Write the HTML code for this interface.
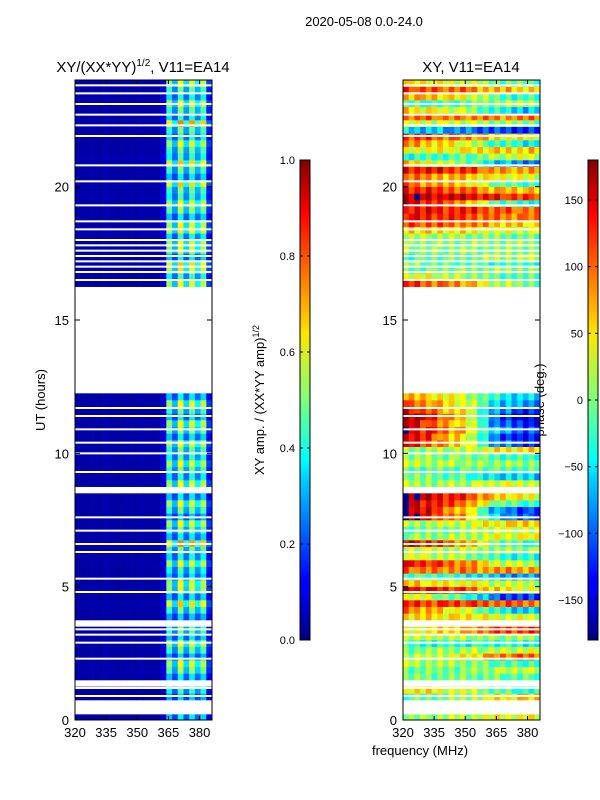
<!DOCTYPE html>
<html><head><meta charset="utf-8"><style>
body{margin:0;background:#fff;}
svg{display:block;font-family:"Liberation Sans",sans-serif;}
</style></head><body>
<svg id="fig" width="600" height="800" xmlns="http://www.w3.org/2000/svg">
<text x="364" y="26" font-size="13" text-anchor="middle">2020-05-08 0.0-24.0</text>
<text x="143" y="72" font-size="15" text-anchor="middle">XY/(XX*YY)<tspan font-size="10" dy="-6">1/2</tspan><tspan dy="6">, V11=EA14</tspan></text>
<text x="471" y="72" font-size="15" text-anchor="middle">XY, V11=EA14</text>
<text transform="translate(45,400) rotate(-90)" font-size="13" text-anchor="middle">UT (hours)</text>
<text transform="translate(264,400) rotate(-90)" font-size="13" text-anchor="middle">XY amp. / (XX*YY amp)<tspan font-size="9" dy="-5">1/2</tspan></text>
<text transform="translate(544,400) rotate(-90)" font-size="13" text-anchor="middle">phase (deg.)</text>
<text x="420" y="755" font-size="13" text-anchor="middle">frequency (MHz)</text>
<defs>
<linearGradient id="jet" x1="0" y1="1" x2="0" y2="0">
<stop offset="0" stop-color="#000080"/><stop offset="0.11" stop-color="#0000ff"/><stop offset="0.125" stop-color="#0000ff"/>
<stop offset="0.34" stop-color="#00d4ff"/><stop offset="0.375" stop-color="#00ffff"/><stop offset="0.5" stop-color="#7dff7a"/>
<stop offset="0.64" stop-color="#ffe600"/><stop offset="0.66" stop-color="#ffd000"/><stop offset="0.89" stop-color="#ff0000"/><stop offset="1" stop-color="#800000"/>
</linearGradient>
</defs>
<g id="layer"></g>
</svg>
<script>
// ---- data ----
const freqMin = 320, freqMax = 386;
const freqTicks = [320, 335, 350, 365, 380];
const hourTicks = [0, 5, 10, 15, 20];
const ampTicks = [0.0, 0.2, 0.4, 0.6, 0.8, 1.0];
const phaseTicks = [-150, -100, -50, 0, 50, 100, 150];
// amplitude profile per frequency bin (24 bins of 2.75 MHz)
const ampCol = [0.04,0.035,0.04,0.04,0.035,0.045,0.04,0.035,0.04,0.04,0.035,0.045,0.04,0.04,0.04,0.08,0.42,0.25,0.5,0.28,0.48,0.3,0.45,0.15];
// validity per 15-min row (96 rows, 0h -> 24h)
const rowValid = [1,0,0,1,1,0,1,1,1,1,1,1,1,1,0,1,1,1,1,1,1,1,1,1,1,1,1,1,1,1,1,1,1,1,0,1,1,1,1,1,1,1,1,1,1,1,1,1,1,0,0,0,0,0,0,0,0,0,0,0,0,0,0,0,0,1,1,1,1,1,1,1,1,1,1,1,1,1,1,1,1,1,1,1,1,1,1,1,1,1,1,1,1,1,1,1];
// amplitude row scale
const ampRow = [1,1,1,0.9,0.9,1,1,1.1,1,0.9,1,1,1,1,1,0.9,1,1.1,1,1.2,1,1,0.9,1,1.1,1,1.2,1,1,1,0.9,1,1,1,1,1,1.1,1,1,1.2,1,1,1,1.1,1,1,1,1,1,1,1,1,1,1,1,1,1,1,1,1,1,1,1,1,1,1,1.2,1.3,1.1,1,1.2,1,1.1,1.3,1,1,1.1,1,1.2,1,1.1,1,1,1.1,1.2,1,1,1.1,1,1.2,1.1,1,1,1.1,1,1];
// phase (deg) at low and high end of band per row
const phaseLow = [10,0,0,-20,60,0,0,-10,20,10,0,-30,20,40,0,60,90,120,40,150,60,-20,100,130,40,20,150,0,-10,10,170,165,160,170,0,10,0,-10,20,10,0,140,150,160,150,170,140,100,80,0,0,0,0,0,0,0,0,0,0,0,0,0,0,0,0,120,40,-10,0,-20,10,0,20,60,120,130,140,150,160,130,100,90,140,60,-40,40,80,120,-60,30,100,60,-30,80,120,50];
const phaseHigh = [40,0,0,60,-30,0,-10,20,-20,100,30,-40,10,120,0,30,-60,100,-120,40,20,-80,80,20,-40,10,-30,40,30,60,-100,-120,-20,40,0,30,-60,-20,10,-30,60,-120,-140,-100,-130,-150,-120,-80,-60,0,0,0,0,0,0,0,0,0,0,0,0,0,0,0,0,0,-20,10,-30,20,0,10,-10,30,60,90,100,-40,120,60,-20,30,80,-90,30,60,-40,40,-120,0,90,-60,20,-30,60,-10];
// blend weight per frequency bin (0=low phase, 1=high phase)
const phaseBlend = [0,0,0.05,0.1,0.1,0.15,0.2,0.25,0.3,0.3,0.35,0.4,0.5,0.6,0.7,0.8,0.85,0.9,0.9,0.95,1,1,1,1];
// per-bin phase texture (deg), applied with alternating sign by row
const phaseJitter = [60,-40,90,-70,30,110,-50,80,-100,40,-60,120,-30,70,-90,50,-120,60,-40,100,-70,30,-110,80];
// thin white gap lines (hours)
const gapLines = [0.25,0.9,1.2,2.3,2.9,3.2,3.4,4.8,5.3,6.3,6.6,7.1,7.6,9.3,10.0,10.4,10.9,11.4,11.7,16.5,16.8,17.0,17.2,17.4,17.6,17.8,18.0,18.4,18.7,19.3,20.2,20.8,21.9,22.3,22.7,23.1,23.5,23.8];

// ---- drawing ----
const NS = "http://www.w3.org/2000/svg";
const layer = document.getElementById('layer');
const top0 = 80, bot0 = 720;
const yH = h => bot0 - (h / 24) * (bot0 - top0);
function jet(x){x=Math.max(0,Math.min(1,x));const c=v=>Math.round(255*Math.max(0,Math.min(1,v)));
 return `rgb(${c(1.5-Math.abs(4*x-3))},${c(1.5-Math.abs(4*x-2))},${c(1.5-Math.abs(4*x-1))})`;}
function el(tag, attrs, parent){const e=document.createElementNS(NS,tag);for(const k in attrs)e.setAttribute(k,attrs[k]);(parent||layer).appendChild(e);return e;}

function panel(x0, name, valueFn){
 const w = 137;
 const xF = f => x0 + (f - freqMin) / (freqMax - freqMin) * w;
 const g = el('g', {});
 
 
 const nb = ampCol.length, bw = (freqMax - freqMin) / nb;
 for (let i = 0; i < rowValid.length; i++) {
  if (!rowValid[i]) continue;
  const y1 = yH((i + 1) * 0.25), y2 = yH(i * 0.25);
  for (let j = 0; j < nb; j++) {
   const xa = xF(freqMin + j * bw), xb = xF(freqMin + (j + 1) * bw);
   const r = el('rect', {x: xa.toFixed(2), y: y1.toFixed(2), width: (xb - xa + 0.3).toFixed(2), height: (y2 - y1 + 0.3).toFixed(2), fill: valueFn(i, j)}, g);
   
   
  }
 }
 gapLines.forEach(h => {
  const l = el('rect', {x: x0, y: yH(h) - 1, width: w, height: 2, fill: '#fff'}, g);
  
  
 });
 const fr = el('rect', {x: x0, y: top0, width: w, height: bot0 - top0, fill: 'none', stroke: '#000', 'stroke-width': 1});
 
 
 freqTicks.forEach(f => {
  const x = xF(f);
  el('line', {x1: x, x2: x, y1: bot0, y2: bot0 - 4, stroke: '#000'});
  el('line', {x1: x, x2: x, y1: top0, y2: top0 + 4, stroke: '#000'});
  const t = el('text', {x: x, y: bot0 + 17, 'font-size': 13, 'text-anchor': 'middle'});
  t.textContent = f;
  
  
 });
 hourTicks.forEach(h => {
  const y = yH(h);
  el('line', {x1: x0, x2: x0 + 5, y1: y, y2: y, stroke: '#000'});
  el('line', {x1: x0 + w, x2: x0 + w - 5, y1: y, y2: y, stroke: '#000'});
  const t = el('text', {x: x0 - 6, y: y + 5, 'font-size': 13, 'text-anchor': 'end'});
  t.textContent = h;
  
  
 });
}
panel(75, 'amplitude', (i, j) => jet(ampCol[j] * ampRow[i] * (j > 15 ? (1 + 0.25 * ((i % 3) - 1)) : 1)));
panel(403, 'phase', (i, j) => {
 let p = phaseLow[i] * (1 - phaseBlend[j]) + phaseHigh[i] * phaseBlend[j];
 p += phaseJitter[(j + i) % phaseJitter.length] * (i % 2 ? 0.25 : -0.25);
 p = ((p + 180) % 360 + 360) % 360 - 180;
 return jet((p + 180) / 360);
});

function colorbar(x0, name, ticks, vmin, vmax, fmt){
 const t0 = 160, b0 = 640, w = 10;
 const r = el('rect', {x: x0, y: t0, width: w, height: b0 - t0, fill: 'url(#jet)', stroke: '#000', 'stroke-width': 1});
 
 
 ticks.forEach(v => {
  const y = b0 - (v - vmin) / (vmax - vmin) * (b0 - t0);
  el('line', {x1: x0, x2: x0 + 3, y1: y, y2: y, stroke: '#000'});
  el('line', {x1: x0 + w, x2: x0 + w - 3, y1: y, y2: y, stroke: '#000'});
  const t = el('text', {x: x0 - 5, y: y + 4, 'font-size': 11, 'text-anchor': 'end'});
  t.textContent = fmt(v);
  
  
 });
}
colorbar(300, 'amp-colorbar', ampTicks, 0, 1, v => v.toFixed(1));
colorbar(588, 'phase-colorbar', phaseTicks, -180, 180, v => (v < 0 ? '\u2212' + (-v) : '' + v));
</script>
</body></html>
